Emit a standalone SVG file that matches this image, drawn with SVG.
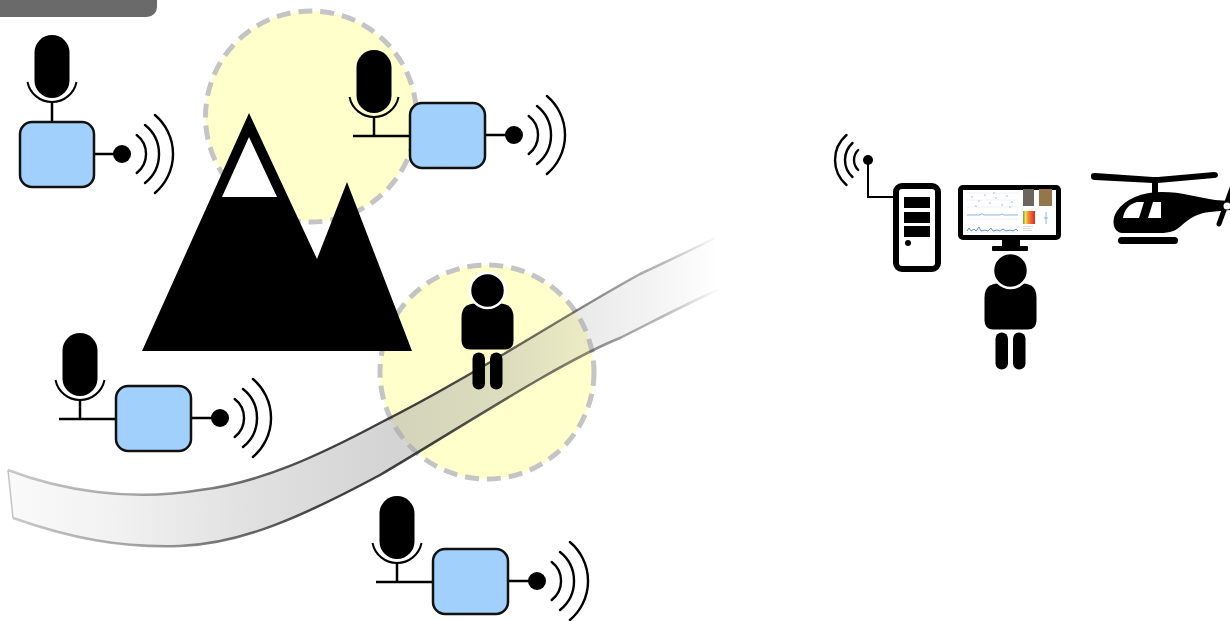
<svg xmlns="http://www.w3.org/2000/svg" xmlns:xlink="http://www.w3.org/1999/xlink" width="1230" height="621" viewBox="0 0 1230 621">
  <style>
    .line { fill: none; stroke: #000; stroke-width: 2.5; }
    .thin { fill: none; stroke: #000; stroke-width: 2; }
    .box { fill: #a2d0fc; stroke: #111; stroke-width: 2.5; }
    .wave { fill: none; stroke: #000; stroke-width: 2.4; stroke-linecap: round; }
    .zone { fill: #ffffcc; stroke: #c4c4c4; stroke-width: 5; stroke-dasharray: 14 8; }
    .ink { fill: #000; }
  </style>
  <defs>
    <!-- microphone capsule with its holder arc, origin = top centre of capsule -->
    <g id="mic">
      <rect class="ink" x="-17.5" y="0" width="35" height="63" rx="17.5"/>
      <path class="thin" d="M-24.5,47 A25,25 0 0 0 24.5,47"/>
    </g>
    <!-- radio waves to the right of a transmitter dot at the origin -->
    <g id="waves">
      <path class="wave" d="M14.7,-19 A24,24 0 0 1 14.7,19"/>
      <path class="wave" d="M23,-29 A37,37 0 0 1 23,29"/>
      <path class="wave" d="M32.9,-39 A51,51 0 0 1 32.9,39"/>
    </g>
    <!-- standing person, origin = centre of head -->
    <g id="person">
      <path class="ink" d="M-12,13 H12 Q26,13 26,27 V50 Q26,59 17,59 H-17 Q-26,59 -26,50 V27 Q-26,13 -12,13 Z"/>
      <circle cx="0" cy="0" r="17.5" fill="#000" stroke="#fff" stroke-width="2.5"/>
      <rect class="ink" x="-15" y="62" width="12.5" height="37" rx="6.25"/>
      <rect class="ink" x="2.5" y="62" width="12.5" height="37" rx="6.25"/>
    </g>
    <linearGradient id="bandFill" gradientUnits="userSpaceOnUse" x1="0" y1="0" x2="720" y2="0">
      <stop offset="0" stop-color="#a8a8a8" stop-opacity="0.05"/>
      <stop offset="0.15" stop-color="#a8a8a8" stop-opacity="0.15"/>
      <stop offset="0.35" stop-color="#a8a8a8" stop-opacity="0.35"/>
      <stop offset="0.55" stop-color="#a8a8a8" stop-opacity="0.5"/>
      <stop offset="0.7" stop-color="#a8a8a8" stop-opacity="0.4"/>
      <stop offset="0.8" stop-color="#a8a8a8" stop-opacity="0.25"/>
      <stop offset="0.9" stop-color="#a8a8a8" stop-opacity="0.14"/>
      <stop offset="1" stop-color="#a8a8a8" stop-opacity="0"/>
    </linearGradient>
    <linearGradient id="bandEdge" gradientUnits="userSpaceOnUse" x1="0" y1="0" x2="720" y2="0">
      <stop offset="0" stop-color="#202020" stop-opacity="0.22"/>
      <stop offset="0.2" stop-color="#202020" stop-opacity="0.4"/>
      <stop offset="0.45" stop-color="#202020" stop-opacity="0.85"/>
      <stop offset="0.6" stop-color="#202020" stop-opacity="0.85"/>
      <stop offset="0.8" stop-color="#202020" stop-opacity="0.55"/>
      <stop offset="0.92" stop-color="#202020" stop-opacity="0.3"/>
      <stop offset="1" stop-color="#202020" stop-opacity="0"/>
    </linearGradient>
    <linearGradient id="heat" x1="0" y1="0" x2="1" y2="0">
      <stop offset="0" stop-color="#4caf50"/>
      <stop offset="0.2" stop-color="#f4e04d"/>
      <stop offset="0.5" stop-color="#f08030"/>
      <stop offset="1" stop-color="#e02828"/>
    </linearGradient>
  </defs>

  <!-- title tab -->
  <path id="tab" d="M0,0 H157 V7 A10,10 0 0 1 147,17 H0 Z" fill="#6a6a6a"/>

  <!-- coverage zones -->
  <g id="zone-summit">
    <circle class="zone" cx="311" cy="116.5" r="105.5"/>
  </g>
  <g id="zone-trail">
    <circle class="zone" cx="487" cy="372" r="107"/>
  </g>

  <!-- mountain -->
  <g id="mountain">
    <polygon class="ink" points="142,351 249,113 317,259 347,182 412,351"/>
    <polygon fill="#fff" points="249,137 222,197 277,197"/>
  </g>

  <!-- sensor stations -->
  <g id="sensor-1" transform="translate(52,35)">
    <use href="#mic"/>
    <path class="line" d="M0,67 V87 M42,119 H70"/>
    <rect class="box" x="-32" y="87" width="74" height="65" rx="12"/>
    <circle cx="70" cy="119" r="9"/>
    <use href="#waves" x="70" y="119"/>
  </g>
  <g id="sensor-2" transform="translate(374,50)">
    <use href="#mic"/>
    <path class="line" d="M0,67 V86 M-21,86 H36 M112,85 H140"/>
    <rect class="box" x="36" y="53" width="75" height="65" rx="12"/>
    <circle cx="140" cy="85" r="9"/>
    <use href="#waves" x="140" y="85"/>
  </g>
  <g id="sensor-3" transform="translate(80,333)">
    <use href="#mic"/>
    <path class="line" d="M0,67 V86 M-21,86 H36 M112,85 H140"/>
    <rect class="box" x="36" y="53" width="75" height="65" rx="12"/>
    <circle cx="140" cy="85" r="9"/>
    <use href="#waves" x="140" y="85"/>
  </g>
  <g id="sensor-4" transform="translate(397,496)">
    <use href="#mic"/>
    <path class="line" d="M0,67 V86 M-21,86 H36 M112,85 H140"/>
    <rect class="box" x="36" y="53" width="75" height="65" rx="12"/>
    <circle cx="140" cy="85" r="9"/>
    <use href="#waves" x="140" y="85"/>
  </g>

  <!-- trail band -->
  <g id="trail">
    <path fill="url(#bandFill)" d="M8,470 C60,490 130,502 200,490 C260,483 320,455 380,423 C470,378 560,318 640,274 C670,260 695,248 715,238 L718,290 C690,302 660,318 620,338 C560,362 460,428 380,475 C300,518 240,544 180,546 C120,548 70,538 13,518 Z"/>
    <path fill="none" stroke="url(#bandEdge)" stroke-width="2.5" d="M8,470 C60,490 130,502 200,490 C260,483 320,455 380,423 C470,378 560,318 640,274 C670,260 695,248 715,238 M13,518 C70,538 120,548 180,546 C240,544 300,518 380,475 C460,428 560,362 620,338 C660,318 690,302 718,290"/>
    <path fill="none" stroke="#c4c4c4" stroke-width="1.5" d="M8,470 L13,518"/>
  </g>

  <!-- hiker on the trail -->
  <g id="hiker">
    <use href="#person" x="487.5" y="290.5"/>
  </g>

  <!-- links -->
  <g id="connectors">
    <path class="thin" d="M868,160 V197 H894"/>
  </g>

  <!-- base station -->
  <g id="receiver">
    <circle cx="868" cy="160" r="5"/>
    <path class="wave" stroke-width="2" d="M858.2,150 A14,14 0 0 0 858.2,170"/>
    <path class="wave" stroke-width="2" d="M852.5,143 A23,23 0 0 0 852.5,177"/>
    <path class="wave" stroke-width="2" d="M846.5,135 A33,33 0 0 0 846.5,185"/>
  </g>
  <g id="server">
    <rect x="896" y="186" width="42" height="83" rx="6" fill="#fff" stroke="#000" stroke-width="6"/>
    <rect class="ink" x="904" y="197" width="26" height="11"/>
    <rect class="ink" x="904" y="212" width="26" height="11"/>
    <rect class="ink" x="904" y="226" width="26" height="11"/>
    <circle cx="908" cy="243" r="3"/>
  </g>
  <g id="monitor">
    <rect class="ink" x="958" y="185" width="103" height="55" rx="5"/>
    <rect fill="#fff" x="963" y="190" width="93" height="45"/>
    <rect class="ink" x="1002" y="239" width="18" height="9"/>
    <rect class="ink" x="992" y="246" width="36" height="5" rx="1"/>
    <!-- dashboard thumbnails -->
    <g stroke="#e2e2e2" stroke-width="0.5">
      <path d="M967,193 H1018 M967,200 H1018 M967,207 H1018 M967,219 H1018 M967,232 H1018"/>
    </g>
    <g fill="#6fa3dc">
      <circle cx="972" cy="197" r="0.7"/><circle cx="979" cy="201" r="0.7"/><circle cx="985" cy="195" r="0.7"/>
      <circle cx="990" cy="203" r="0.7"/><circle cx="996" cy="198" r="0.7"/><circle cx="1002" cy="205" r="0.7"/>
      <circle cx="1007" cy="196" r="0.7"/><circle cx="1012" cy="202" r="0.7"/><circle cx="976" cy="206" r="0.7"/>
      <circle cx="994" cy="193" r="0.7"/><circle cx="1010" cy="207" r="0.7"/>
    </g>
    <path fill="none" stroke="#6fa3dc" stroke-width="0.8" d="M967,215 H980 L982,213.5 L984,215 H1000 L1002,214 L1004,215 H1018"/>
    <path fill="none" stroke="#3a78c8" stroke-width="0.8" d="M967,231 L969,228 L971,231 L974,229 L976,231 L979,227 L981,231 L985,230 L988,231 L991,228 L993,231 L997,230 L1000,231 L1003,229 L1006,231 L1010,230 L1013,231 L1016,229 L1018,231"/>
    <rect x="1023" y="189" width="11" height="17" fill="#6b655d"/>
    <rect x="1039" y="189" width="13" height="17" fill="#95754a"/>
    <rect x="1023" y="211" width="12" height="13" fill="url(#heat)"/>
    <path fill="none" stroke="#6fa3dc" stroke-width="0.8" d="M1046,212 V224 M1044,218 H1048"/>
    <path fill="none" stroke="#bdbdbd" stroke-width="0.6" d="M1023,226.5 H1033 M1023,228.5 H1031 M1023,230.5 H1032"/>
  </g>
  <g id="operator">
    <use href="#person" x="1010.5" y="270.5"/>
  </g>
  <g id="helicopter">
    <path class="ink" d="M1091,175 Q1091,173 1095,173 L1153,177 L1158,177 L1214,172 Q1218,172 1218,175 Q1218,178 1214,178 L1158,183 L1153,183 L1095,180 Q1091,180 1091,177 Z"/>
    <rect class="ink" x="1152" y="181" width="6" height="14"/>
    <path class="ink" d="M1122,233 C1113,232 1111,220 1117,211 C1125,199 1142,192 1162,192 C1182,192 1196,197 1215,200 L1230,201 L1230,210 L1210,212 C1198,213 1190,218 1182,225 C1176,231 1170,233 1160,233 Z"/>
    <path fill="#fff" d="M1123,218 C1124,210 1129,204 1137,202 L1144,202 L1139,218 Z"/>
    <path fill="#fff" d="M1148,218 L1153,202 L1161,202 L1161,218 Z"/>
    <rect class="ink" x="1118" y="237" width="60" height="7" rx="3.5"/>
    <path fill="none" stroke="#000" stroke-width="5" stroke-linecap="round" d="M1219,224 L1232,188"/>
    <circle cx="1227" cy="206" r="3.5" fill="#fff"/>
  </g>
</svg>
